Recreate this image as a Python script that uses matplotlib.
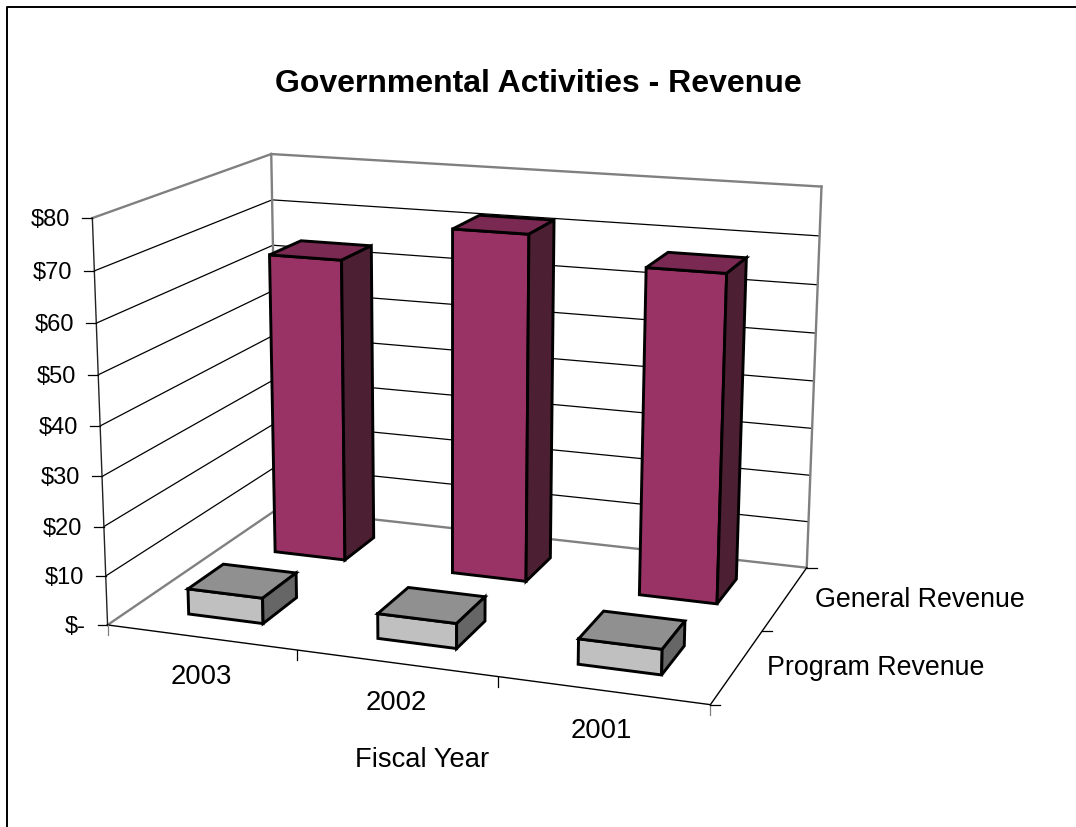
import numpy as np
import matplotlib
matplotlib.use("Agg")
import matplotlib.pyplot as plt
from matplotlib.patches import Polygon

plt.rcParams['font.family'] = ['Liberation Sans', 'DejaVu Sans']

# data (millions of dollars)
years = ["2003", "2002", "2001"]
series_names = ["Program Revenue", "General Revenue"]
program_revenue = [5.2, 5, 5]
general_revenue = [64, 72, 67]
z_ticks = [0, 10, 20, 30, 40, 50, 60, 70, 80]
z_labels = ["$-", "$10", "$20", "$30", "$40", "$50", "$60", "$70", "$80"]

# box corners in the picture, used to fit the camera: (x, depth, z) -> pixel
anchors = [
    ((0, 0, 0), (108.3, 625.7)),
    ((1, 0, 0), (710.3, 706.0)),
    ((1, 1, 0), (807.0, 568.3)),
    ((0, 1, 0), (277.0, 510.0)),
    ((0, 0, 80), (91.7, 219.0)),
    ((0, 1, 80), (272.0, 155.0)),
    ((1, 1, 80), (821.3, 187.7)),
]

rows = []
for (x, y, z), (u, v) in anchors:
    rows.append([x, y, z, 1, 0, 0, 0, 0, -u * x, -u * y, -u * z, -u])
    rows.append([0, 0, 0, 0, x, y, z, 1, -v * x, -v * y, -v * z, -v])
cam = np.linalg.svd(np.array(rows))[2][-1].reshape(3, 4)


def project(x, y, z):
    p = cam @ np.array([x, y, z, 1.0])
    return p[0] / p[2], p[1] / p[2]


fig = plt.figure(figsize=(10.76, 8.28), dpi=100)
ax = fig.add_axes([0, 0, 1, 1])
ax.set_xlim(0, 1076)
ax.set_ylim(828, 0)
ax.axis('off')


def line3d(a, b, color='black', lw=1.0, zorder=2):
    pa, pb = project(*a), project(*b)
    ax.plot([pa[0], pb[0]], [pa[1], pb[1]], color=color, lw=lw, zorder=zorder,
            solid_capstyle='projecting')


# outer chart border, only top and left are inside the picture
ax.plot([6.5, 6.5, 1076], [828, 7.5, 7.5], color='black', lw=1.4)

# gridlines
for z in z_ticks[1:-1]:
    line3d((0, 0, z), (0, 1, z), lw=0.9)
    line3d((0, 1, z), (1, 1, z), lw=0.9)

# walls
grey = '#808080'
line3d((0, 0, 80), (0, 1, 80), grey, 1.7)
line3d((0, 1, 80), (1, 1, 80), grey, 1.7)
line3d((0, 1, 0), (0, 1, 80), grey, 1.7)
line3d((1, 1, 0), (1, 1, 80), grey, 1.7)
line3d((0, 0, 0), (0, 1, 0), grey, 1.7)
line3d((0, 1, 0), (1, 1, 0), grey, 1.7)

# axes
line3d((0, 0, 0), (0, 0, 80), '#222222', 1.0)
line3d((0, 0, 0), (1, 0, 0), lw=1.0)
line3d((1, 0, 0), (1, 1, 0), lw=1.0)

# z ticks and labels
for z, label in zip(z_ticks, z_labels):
    u, v = project(0, 0, z)
    ax.plot([u - 10, u], [v, v], color='black', lw=0.9)
    ax.text(u - 22, v + 1, label, ha='right', va='center', fontsize=17)

# category ticks
for i in range(len(years) + 1):
    u, v = project(i / len(years), 0, 0)
    ax.plot([u, u], [v, v + 10], color='black' if 0 < i < 3 else grey, lw=0.9)

# depth ticks
for j in range(len(series_names) + 1):
    u, v = project(1, j / len(series_names), 0)
    ax.plot([u, u + 10], [v, v], color='black', lw=0.9)

ax.text(201, 677, years[0], ha='center', va='center', fontsize=19.8)
ax.text(396, 703, years[1], ha='center', va='center', fontsize=19.8)
ax.text(601, 731, years[2], ha='center', va='center', fontsize=19.8)
ax.text(422, 760, "Fiscal Year", ha='center', va='center', fontsize=19.7)
ax.text(815, 600, series_names[1], ha='left', va='center', fontsize=19.25)
ax.text(767, 668, series_names[0], ha='left', va='center', fontsize=19.25)
ax.text(538.5, 84, "Governmental Activities - Revenue", ha='center', va='center',
        fontsize=23, fontweight='bold')

row_centres = [0.237, 0.75]


def draw_bar(i, j, value, front, top, side):
    w = 0.4 / len(years)
    d = 0.4 / len(series_names)
    x0 = (i + 0.5) / len(years) - w / 2
    x1 = x0 + w
    y0 = row_centres[j] - d / 2
    y1 = y0 + d
    faces = [
        ([(x0, y0, 0), (x1, y0, 0), (x1, y0, value), (x0, y0, value)], front),
        ([(x0, y0, value), (x1, y0, value), (x1, y1, value), (x0, y1, value)], top),
        ([(x1, y0, 0), (x1, y1, 0), (x1, y1, value), (x1, y0, value)], side),
    ]
    for pts, color in faces:
        ax.add_patch(Polygon([project(*p) for p in pts], closed=True, facecolor=color,
                             edgecolor='black', lw=2.1, joinstyle='miter', zorder=5))


# back row first
for i, value in enumerate(general_revenue):
    draw_bar(i, 1, value, '#993366', '#7A2952', '#4D1F33')
for i, value in enumerate(program_revenue):
    draw_bar(i, 0, value, '#C0C0C0', '#909090', '#666666')

fig.savefig("out.png", dpi=100)
